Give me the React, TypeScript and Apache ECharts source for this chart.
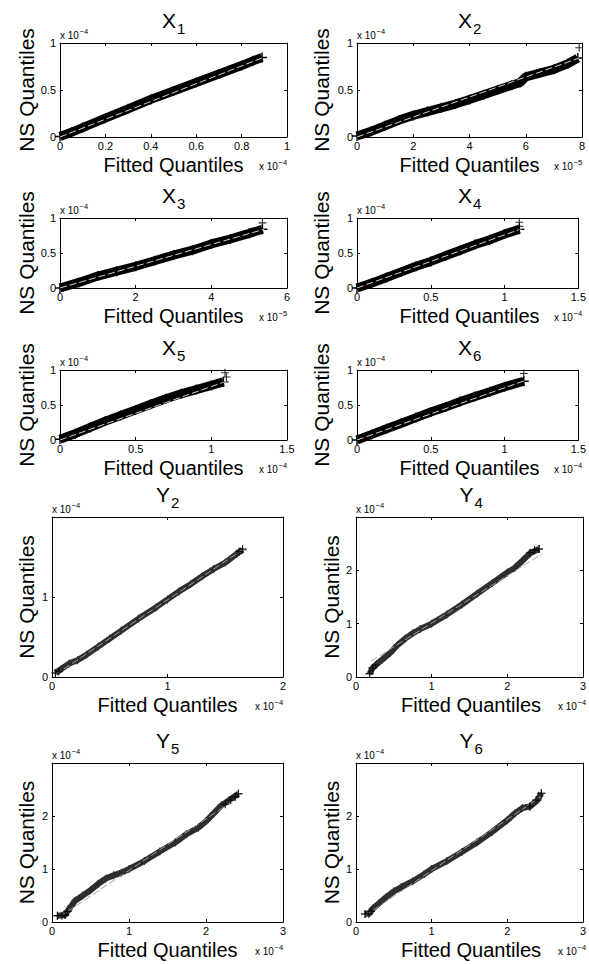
import React, { useEffect, useRef } from 'react';
import * as echarts from 'echarts';

// ---------- panel labels and axes ----------
const panelLetters = ['X', 'X', 'X', 'X', 'X', 'X', 'Y', 'Y', 'Y', 'Y'];
const panelSubscripts = ['1', '2', '3', '4', '5', '6', '2', '4', '5', '6'];
const xExponents = ['−4', '−5', '−5', '−4', '−4', '−4', '−4', '−4', '−4', '−4'];
const yExponents = ['−4', '−4', '−4', '−4', '−4', '−4', '−4', '−4', '−4', '−4'];
const xAxisMax = [1, 8, 6, 1.5, 1.5, 1.5, 2, 3, 3, 3];
const xAxisStep = [0.2, 2, 2, 0.5, 0.5, 0.5, 1, 1, 1, 1];
const yAxisMax = [1, 1, 1, 1, 1, 1, 2, 3, 3, 3];
const yAxisStep = [0.5, 0.5, 0.5, 0.5, 0.5, 0.5, 1, 1, 1, 1];
const yShowMaxLabel = [true, true, true, true, true, true, false, false, false, false];
const xAxisTitle = 'Fitted Quantiles';
const yAxisTitle = 'NS Quantiles';

// ---------- quantile data (fitted, NS) ----------
const x1Fitted = [0, 0.05, 0.1, 0.2, 0.3, 0.4, 0.5, 0.6, 0.7, 0.8, 0.85, 0.89];
const x1NS = [0.005, 0.05, 0.1, 0.2, 0.3, 0.4, 0.49, 0.58, 0.67, 0.76, 0.81, 0.845];
const x1RefFitted = [0, 0.9];
const x1RefNS = [0, 0.85];
const x1OutFitted: number[] = [];
const x1OutNS: number[] = [];

const x2Fitted = [0, 0.5, 1, 1.5, 2, 2.5, 3, 3.5, 4, 4.5, 5, 5.5, 5.8, 6, 6.5, 7, 7.5, 7.85];
const x2NS = [0.01, 0.06, 0.12, 0.18, 0.23, 0.27, 0.31, 0.35, 0.4, 0.45, 0.5, 0.55, 0.58, 0.64, 0.68, 0.72, 0.78, 0.84];
const x2RefFitted = [0, 7.9];
const x2RefNS = [0, 0.84];
const x2OutFitted = [7.9];
const x2OutNS = [0.95];

const x3Fitted = [0, 0.5, 1, 1.5, 2, 2.5, 3, 3.5, 4, 4.5, 5, 5.35];
const x3NS = [0, 0.08, 0.17, 0.24, 0.31, 0.39, 0.47, 0.54, 0.63, 0.7, 0.78, 0.84];
const x3RefFitted = [0, 5.4];
const x3RefNS = [0, 0.84];
const x3OutFitted = [5.35];
const x3OutNS = [0.93];

const x4Fitted = [0, 0.1, 0.2, 0.3, 0.4, 0.5, 0.6, 0.7, 0.8, 0.9, 1.0, 1.1];
const x4NS = [0, 0.07, 0.15, 0.23, 0.31, 0.38, 0.46, 0.54, 0.62, 0.69, 0.77, 0.84];
const x4RefFitted = [0, 1.12];
const x4RefNS = [0, 0.85];
const x4OutFitted = [1.1, 1.1];
const x4OutNS = [0.94, 0.88];

const x5Fitted = [0, 0.1, 0.2, 0.3, 0.4, 0.5, 0.6, 0.7, 0.8, 0.9, 1.0, 1.08];
const x5NS = [0.01, 0.09, 0.18, 0.27, 0.35, 0.43, 0.51, 0.59, 0.66, 0.72, 0.78, 0.83];
const x5RefFitted = [0, 1.1];
const x5RefNS = [0, 0.84];
const x5OutFitted = [1.09, 1.1];
const x5OutNS = [0.96, 0.9];

const x6Fitted = [0, 0.1, 0.2, 0.3, 0.4, 0.5, 0.6, 0.7, 0.8, 0.9, 1.0, 1.13];
const x6NS = [0, 0.08, 0.16, 0.24, 0.32, 0.4, 0.47, 0.55, 0.62, 0.69, 0.76, 0.84];
const x6RefFitted = [0, 1.14];
const x6RefNS = [0, 0.85];
const x6OutFitted = [1.13];
const x6OutNS = [0.95];

const y2Fitted = [0.03, 0.08, 0.15, 0.22, 0.3, 0.4, 0.5, 0.6, 0.75, 0.9, 1.0, 1.1, 1.2, 1.3, 1.4, 1.5, 1.6, 1.65];
const y2NS = [0.05, 0.1, 0.17, 0.21, 0.28, 0.38, 0.48, 0.58, 0.73, 0.87, 0.97, 1.07, 1.16, 1.26, 1.35, 1.43, 1.54, 1.59];
const y2RefFitted = [0.03, 1.66];
const y2RefNS = [0.03, 1.6];
const y2OutFitted = [0.03, 0.06, 1.62, 1.65];
const y2OutNS = [0.05, 0.07, 1.57, 1.6];

const y4Fitted = [0.18, 0.22, 0.28, 0.35, 0.45, 0.55, 0.65, 0.75, 0.85, 1.0, 1.2, 1.4, 1.6, 1.8, 2.0, 2.1, 2.2, 2.3, 2.42];
const y4NS = [0.06, 0.17, 0.25, 0.33, 0.45, 0.6, 0.72, 0.82, 0.9, 1.0, 1.17, 1.36, 1.56, 1.76, 1.96, 2.05, 2.18, 2.32, 2.4];
const y4RefFitted = [0.2, 2.45];
const y4RefNS = [0.3, 2.3];
const y4OutFitted = [0.18, 0.22, 0.26, 2.3, 2.36, 2.42];
const y4OutNS = [0.06, 0.17, 0.22, 2.33, 2.38, 2.4];

const y5Fitted = [0.07, 0.17, 0.2, 0.25, 0.3, 0.4, 0.5, 0.6, 0.7, 0.8, 0.9, 1.0, 1.2, 1.4, 1.6, 1.75, 1.9, 2.0, 2.1, 2.2, 2.3, 2.42];
const y5NS = [0.12, 0.13, 0.2, 0.3, 0.4, 0.5, 0.6, 0.72, 0.82, 0.88, 0.93, 1.0, 1.15, 1.33, 1.5, 1.66, 1.78, 1.9, 2.05, 2.2, 2.3, 2.42];
const y5RefFitted = [0.1, 2.45];
const y5RefNS = [0.1, 2.38];
const y5OutFitted = [0.07, 0.13, 0.17, 0.2, 2.25, 2.32, 2.38, 2.42];
const y5OutNS = [0.12, 0.12, 0.13, 0.2, 2.22, 2.3, 2.36, 2.42];

const y6Fitted = [0.12, 0.18, 0.22, 0.3, 0.4, 0.5, 0.6, 0.75, 0.9, 1.0, 1.2, 1.4, 1.6, 1.8, 2.0, 2.1, 2.2, 2.3, 2.4, 2.45];
const y6NS = [0.15, 0.17, 0.25, 0.35, 0.47, 0.58, 0.66, 0.77, 0.9, 1.0, 1.15, 1.32, 1.5, 1.7, 1.92, 2.05, 2.15, 2.18, 2.3, 2.43];
const y6RefFitted = [0.12, 2.45];
const y6RefNS = [0.12, 2.37];
const y6OutFitted = [0.12, 0.17, 0.2, 2.3, 2.38, 2.45];
const y6OutNS = [0.15, 0.15, 0.2, 2.18, 2.3, 2.43];

const panelData = [
  { fitted: x1Fitted, ns: x1NS, refFitted: x1RefFitted, refNS: x1RefNS, outFitted: x1OutFitted, outNS: x1OutNS },
  { fitted: x2Fitted, ns: x2NS, refFitted: x2RefFitted, refNS: x2RefNS, outFitted: x2OutFitted, outNS: x2OutNS },
  { fitted: x3Fitted, ns: x3NS, refFitted: x3RefFitted, refNS: x3RefNS, outFitted: x3OutFitted, outNS: x3OutNS },
  { fitted: x4Fitted, ns: x4NS, refFitted: x4RefFitted, refNS: x4RefNS, outFitted: x4OutFitted, outNS: x4OutNS },
  { fitted: x5Fitted, ns: x5NS, refFitted: x5RefFitted, refNS: x5RefNS, outFitted: x5OutFitted, outNS: x5OutNS },
  { fitted: x6Fitted, ns: x6NS, refFitted: x6RefFitted, refNS: x6RefNS, outFitted: x6OutFitted, outNS: x6OutNS },
  { fitted: y2Fitted, ns: y2NS, refFitted: y2RefFitted, refNS: y2RefNS, outFitted: y2OutFitted, outNS: y2OutNS },
  { fitted: y4Fitted, ns: y4NS, refFitted: y4RefFitted, refNS: y4RefNS, outFitted: y4OutFitted, outNS: y4OutNS },
  { fitted: y5Fitted, ns: y5NS, refFitted: y5RefFitted, refNS: y5RefNS, outFitted: y5OutFitted, outNS: y5OutNS },
  { fitted: y6Fitted, ns: y6NS, refFitted: y6RefFitted, refNS: y6RefNS, outFitted: y6OutFitted, outNS: y6OutNS },
];

// ---------- layout (pixels) ----------
const layout = [
  { left: 60, top: 43, width: 227, height: 94, nsX: 26 },
  { left: 357, top: 43, width: 225, height: 94, nsX: 321 },
  { left: 60, top: 218, width: 227, height: 70, nsX: 26 },
  { left: 357, top: 218, width: 225, height: 70, nsX: 321 },
  { left: 60, top: 370, width: 227, height: 70, nsX: 26 },
  { left: 357, top: 370, width: 225, height: 70, nsX: 321 },
  { left: 52, top: 517, width: 231, height: 160, nsX: 26 },
  { left: 356, top: 517, width: 230, height: 160, nsX: 331 },
  { left: 52, top: 763, width: 231, height: 159, nsX: 26 },
  { left: 356, top: 763, width: 230, height: 159, nsX: 331 },
];

const FONT = '"Liberation Sans", Arial, Helvetica, sans-serif';
const PLUS = 'path://M4.3,0 H5.7 V4.3 H10 V5.7 H5.7 V10 H4.3 V5.7 H0 V4.3 H4.3 Z';

function zip(a: number[], b: number[]) {
  return a.map((v, i) => [v, b[i]]);
}

function exponentLabel(x: number, y: number, exp: string) {
  return [
    {
      type: 'text', x, y, z: 10,
      style: { text: 'x 10', fontSize: 10, fontFamily: FONT, fill: '#000', align: 'left', verticalAlign: 'middle' },
    },
    {
      type: 'text', x: x + 19.5, y: y - 4, z: 10,
      style: { text: exp, fontSize: 7.5, fontFamily: FONT, fill: '#000', align: 'left', verticalAlign: 'middle' },
    },
  ];
}

export default function App() {
  const ref = useRef<HTMLDivElement>(null);

  useEffect(() => {
    if (!ref.current) return;
    const chart = echarts.init(ref.current, undefined, { renderer: 'svg' });

    const grids: any[] = [];
    const xAxes: any[] = [];
    const yAxes: any[] = [];
    const series: any[] = [];
    const graphics: any[] = [];

    layout.forEach((L, i) => {
      const isY = i >= 6;
      grids.push({ left: L.left, top: L.top, width: L.width, height: L.height, containLabel: false });
      const common = {
        type: 'value',
        gridIndex: i,
        splitLine: { show: false },
        axisLine: { show: true, onZero: false, lineStyle: { color: '#000', width: 1 } },
        axisTick: { show: true, inside: true, length: 3, lineStyle: { color: '#000', width: 1 } },
      };
      xAxes.push({
        ...common, position: 'bottom', min: 0, max: xAxisMax[i], interval: xAxisStep[i],
        axisLabel: { color: '#000', fontSize: 11, fontFamily: FONT, margin: 3, lineHeight: 12 },
      });
      xAxes.push({
        ...common, position: 'top', min: 0, max: xAxisMax[i], interval: xAxisStep[i],
        axisLabel: { show: false },
      });
      yAxes.push({
        ...common, position: 'left', min: 0, max: yAxisMax[i], interval: yAxisStep[i],
        axisLabel: { color: '#000', fontSize: 11, fontFamily: FONT, margin: 4, showMaxLabel: yShowMaxLabel[i] },
      });
      yAxes.push({
        ...common, position: 'right', min: 0, max: yAxisMax[i], interval: yAxisStep[i],
        axisLabel: { show: false },
      });

      const d = panelData[i];
      const bandColor = isY ? '#2e2e2e' : '#000';
      series.push({
        type: 'line',
        xAxisIndex: 2 * i, yAxisIndex: 2 * i,
        data: zip(d.fitted, d.ns),
        symbol: PLUS, symbolSize: isY ? 8 : 10, showSymbol: true,
        itemStyle: { color: bandColor },
        lineStyle: { color: bandColor, width: isY ? 6 : 9 },
        z: 2, silent: true,
      });
      series.push({
        type: 'line',
        xAxisIndex: 2 * i, yAxisIndex: 2 * i,
        data: zip(d.refFitted, d.refNS),
        showSymbol: false, symbol: 'none',
        lineStyle: { color: isY ? '#a0a0a0' : '#cfcfcf', width: 1, type: [7, 3] },
        z: 3, silent: true,
      });
      if (d.outFitted.length) {
        series.push({
          type: 'scatter',
          xAxisIndex: 2 * i, yAxisIndex: 2 * i,
          data: zip(d.outFitted, d.outNS),
          symbol: PLUS, symbolSize: 8,
          itemStyle: { color: '#000' },
          z: 4, silent: true,
        });
      }

      const cx = L.left + L.width / 2;
      const bottom = L.top + L.height;
      const right = L.left + L.width;
      // title
      graphics.push({
        type: 'text', x: cx + 2.5, y: L.top - 23,
        style: { text: panelLetters[i], fontSize: 21, fontFamily: FONT, fill: '#000', align: 'right', verticalAlign: 'middle' },
      });
      graphics.push({
        type: 'text', x: cx + 3.5, y: L.top - 15,
        style: { text: panelSubscripts[i], fontSize: 15, fontFamily: FONT, fill: '#000', align: 'left', verticalAlign: 'middle' },
      });
      // y exponent (top-left)
      graphics.push(...exponentLabel(L.left, L.top - 8, yExponents[i]));
      // x exponent (bottom-right)
      graphics.push(...exponentLabel(right - 28, bottom + 29, xExponents[i]));
      // axis titles
      graphics.push({
        type: 'text', x: cx, y: bottom + 28,
        style: { text: xAxisTitle, fontSize: 20, lineHeight: 20, fontFamily: FONT, fill: '#000', align: 'center', verticalAlign: 'middle' },
      });
      graphics.push({
        type: 'text', x: L.nsX, y: L.top + L.height / 2, rotation: Math.PI / 2,
        style: { text: yAxisTitle, fontSize: 21, fontFamily: FONT, fill: '#000', align: 'center', verticalAlign: 'middle' },
      });
    });

    chart.setOption({
      animation: false,
      backgroundColor: '#fff',
      grid: grids,
      xAxis: xAxes,
      yAxis: yAxes,
      series,
      graphic: graphics,
    });

    return () => chart.dispose();
  }, []);

  return (
    <div
      ref={ref}
      style={{ position: 'absolute', left: 0, top: 0, width: 589, height: 964, background: '#fff' }}
    />
  );
}
